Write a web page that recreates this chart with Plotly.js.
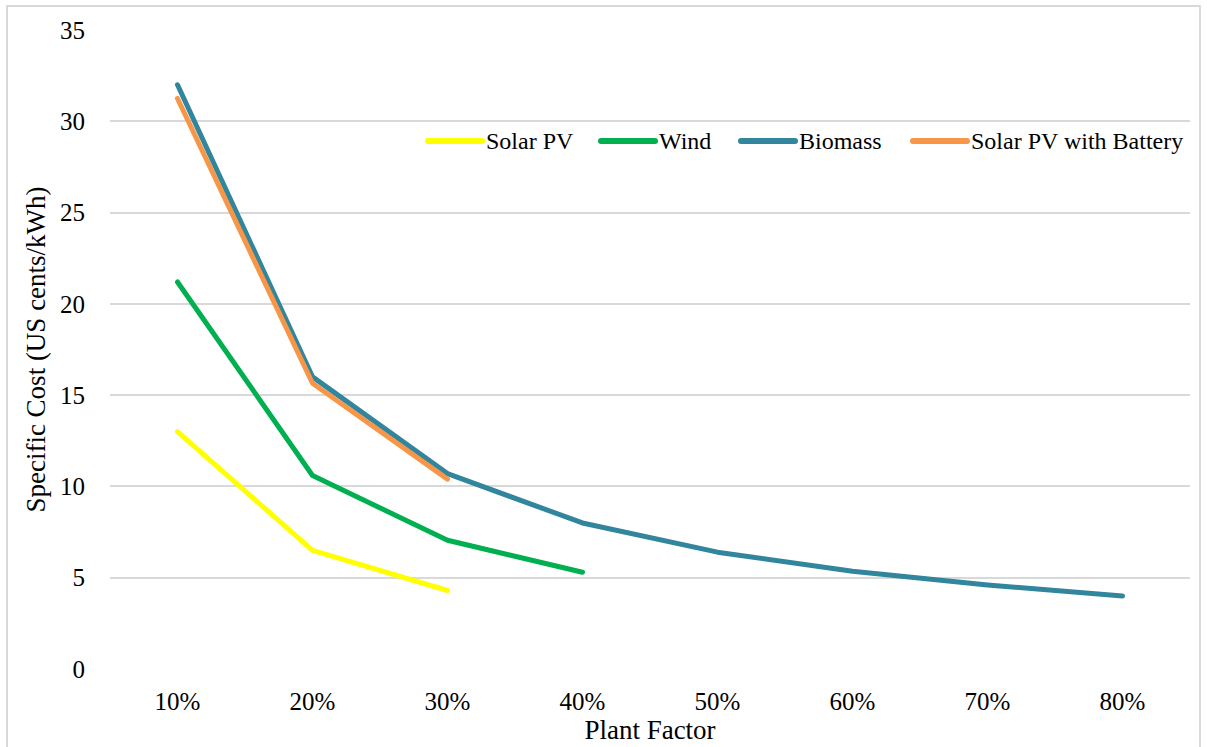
<!DOCTYPE html>
<html>
<head>
<meta charset="utf-8">
<script src="https://cdn.plot.ly/plotly-3.0.1.min.js"></script>
<style>
html,body{margin:0;padding:0;background:#fff;}
#chart{position:absolute;left:0;top:0;width:1207px;height:747px;}
#frame{position:absolute;left:6px;top:5px;width:1195px;height:750px;border:2px solid #d9d9d9;pointer-events:none;box-sizing:border-box;}
.scatterlayer .js-line{stroke-linecap:round !important;stroke-linejoin:round !important;}
.shapelayer path{stroke-linecap:round !important;}
</style>
</head>
<body>
<div id="chart"></div>
<div id="frame"></div>
<script>
const categories = ["10%","20%","30%","40%","50%","60%","70%","80%"];
const solarPV = [13.0, 6.5, 4.3];
const wind = [21.2, 10.6, 7.05, 5.3];
const biomass = [32.0, 16.0, 10.7, 8.0, 6.4, 5.35, 4.6, 4.0];
const solarBattery = [31.25, 15.65, 10.4];
const seriesNames = ["Solar PV","Wind","Biomass","Solar PV with Battery"];
const seriesColors = ["#FFFF00","#00B050","#31859C","#F79646"];
const seriesData = [solarPV, wind, biomass, solarBattery];

const serif = '"Liberation Serif", "DejaVu Serif", serif';

const traces = seriesData.map((vals, i) => ({
  type: 'scatter',
  mode: 'lines',
  name: seriesNames[i],
  x: categories.slice(0, vals.length),
  y: vals,
  line: {color: seriesColors[i], width: 5},
  showlegend: false
}));

// Custom legend (Excel style: long sample line then label)
const W = 1207, H = 747, mL = 110, mR = 17, mT = 30, mB = 78;
const pw = W - mL - mR, ph = H - mT - mB;
const px2x = p => (p - mL) / pw;
const py2y = p => (H - mB - p) / ph;
const legendLineStart = [428, 601, 741, 913];
const legendY = 141;
const shapes = [], annotations = [];
seriesNames.forEach((nm, i) => {
  shapes.push({type: 'line', xref: 'paper', yref: 'paper',
    x0: px2x(legendLineStart[i]), x1: px2x(legendLineStart[i] + 54),
    y0: py2y(legendY), y1: py2y(legendY),
    line: {color: seriesColors[i], width: 6}});
  annotations.push({xref: 'paper', yref: 'paper', x: px2x(legendLineStart[i] + 56), y: py2y(legendY),
    xanchor: 'left', yanchor: 'middle', showarrow: false, text: nm,
    font: {family: serif, size: 24, color: '#000'}});
});

const tickFont = {family: serif, size: 25, color: '#000'};

const layout = {
  width: W,
  height: H,
  paper_bgcolor: '#fff',
  plot_bgcolor: '#fff',
  margin: {l: mL, r: mR, t: mT, b: mB},
  showlegend: false,
  shapes: shapes,
  annotations: annotations,
  xaxis: {
    type: 'category',
    categoryorder: 'array',
    categoryarray: categories,
    range: [-0.5, 7.5],
    showgrid: false,
    zeroline: false,
    showline: false,
    ticks: 'outside', ticklen: 10, tickcolor: 'rgba(0,0,0,0)',
    tickfont: tickFont,
    title: {text: 'Plant Factor', font: {family: serif, size: 27, color: '#000'}, standoff: 2}
  },
  yaxis: {
    range: [0, 35],
    dtick: 5,
    tick0: 0,
    showgrid: true,
    gridcolor: '#d9d9d9',
    gridwidth: 2,
    zeroline: false,
    showline: false,
    ticks: 'outside', ticklen: 19, tickcolor: 'rgba(0,0,0,0)',
    tickfont: tickFont,
    title: {text: 'Specific Cost (US cents/kWh)', font: {family: serif, size: 27, color: '#000'}, standoff: 6}
  }
};

Plotly.newPlot('chart', traces, layout, {displayModeBar: false, staticPlot: true});
</script>
</body>
</html>
